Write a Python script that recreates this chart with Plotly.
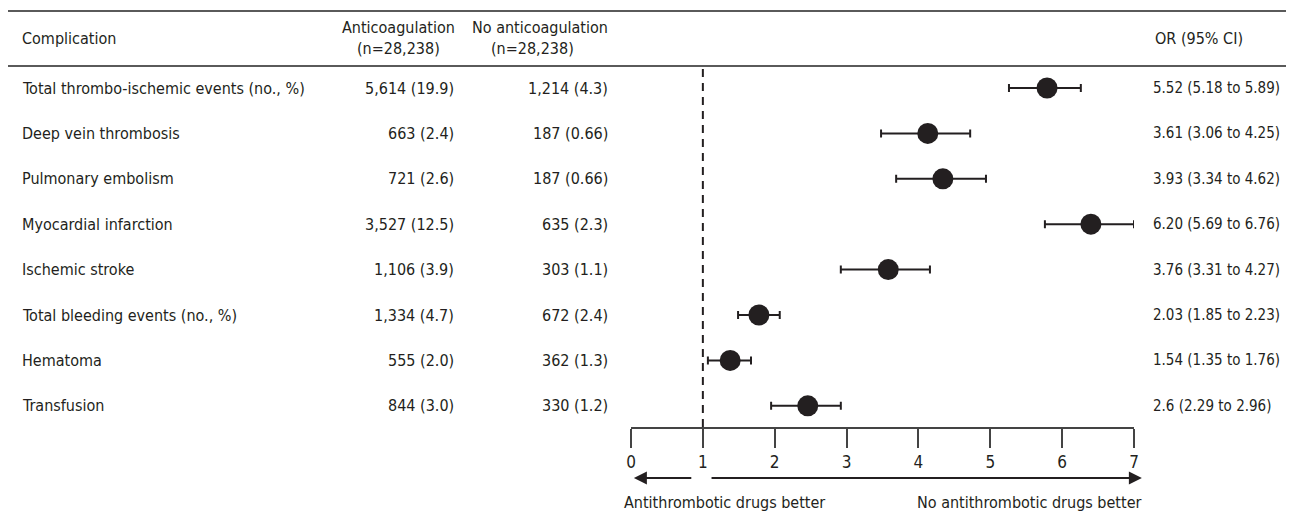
import plotly.graph_objects as go

# ---------------- data ----------------
complications = [
    "Total thrombo-ischemic events (no., %)",
    "Deep vein thrombosis",
    "Pulmonary embolism",
    "Myocardial infarction",
    "Ischemic stroke",
    "Total bleeding events (no., %)",
    "Hematoma",
    "Transfusion",
]
anticoag = ["5,614 (19.9)", "663 (2.4)", "721 (2.6)", "3,527 (12.5)",
            "1,106 (3.9)", "1,334 (4.7)", "555 (2.0)", "844 (3.0)"]
no_anticoag = ["1,214 (4.3)", "187 (0.66)", "187 (0.66)", "635 (2.3)",
               "303 (1.1)", "672 (2.4)", "362 (1.3)", "330 (1.2)"]
or_text = ["5.52 (5.18 to 5.89)", "3.61 (3.06 to 4.25)", "3.93 (3.34 to 4.62)",
           "6.20 (5.69 to 6.76)", "3.76 (3.31 to 4.27)", "2.03 (1.85 to 2.23)",
           "1.54 (1.35 to 1.76)", "2.6 (2.29 to 2.96)"]
# positions of the marks as drawn in the picture (read against the axis)
est_drawn = [5.79, 4.13, 4.34, 6.40, 3.58, 1.78, 1.38, 2.46]
lo_drawn = [5.26, 3.48, 3.69, 5.76, 2.92, 1.49, 1.07, 1.95]
hi_drawn = [6.26, 4.72, 4.94, 7.00, 4.16, 2.07, 1.67, 2.92]
tick_vals = [0, 1, 2, 3, 4, 5, 6, 7]
ref_line = 1

# ---------------- layout geometry (screen pixels) ----------------
O = 8                      # default page margin of the html body
W, H = 1294 - O, 518 - O
L, R, T, B = 631, 1134, 66, 427
PW, PH = R - L, B - T
def px(x):
    return (x - L) / PW
def py(y):
    return (B - y) / PH

FONT = "DejaVu Sans Condensed, Liberation Sans Narrow, Arial Narrow, sans-serif"
TXT = "#231f20"
FS = 16

rows = list(range(len(complications)))

fig = go.Figure()
fig.add_trace(go.Scatter(
    x=est_drawn, y=rows, mode="markers",
    marker=dict(size=21, color=TXT),
    error_x=dict(type="data", symmetric=False,
                 array=[h - e for h, e in zip(hi_drawn, est_drawn)],
                 arrayminus=[e - l for e, l in zip(est_drawn, lo_drawn)],
                 color=TXT, thickness=2, width=4),
    hoverinfo="skip", showlegend=False, cliponaxis=False,
))

ann = []
def txt(x, y, s, xa, yref="y", size=FS):
    ann.append(dict(x=x, y=y, xref="paper", yref=yref, text=s, showarrow=False,
                    xanchor=xa, yanchor="middle", font=dict(size=size, color=TXT, family=FONT)))

for i in rows:
    txt(px(20), i, complications[i], "left")
    txt(px(456), i, anticoag[i], "right")
    txt(px(610), i, no_anticoag[i], "right")
    txt(px(1151), i, or_text[i], "left", size=15)

# headers
txt(px(20), py(38), "Complication", "left", "paper")
txt(px(398), py(28), "Anticoagulation", "center", "paper")
txt(px(398), py(48), "(n=28,238)", "center", "paper")
txt(px(540), py(28), "No anticoagulation", "center", "paper")
txt(px(532), py(48), "(n=28,238)", "center", "paper")
txt(px(1153), py(38), "OR (95% CI)", "left", "paper")

# direction arrows
ann.append(dict(x=0.04, y=py(478), ax=0.86, ay=0, xref="x", yref="paper",
                axref="x", ayref="pixel", text="", showarrow=True,
                arrowhead=2, arrowsize=1.3, arrowwidth=2, arrowcolor=TXT))
ann.append(dict(x=7.11, y=py(478), ax=1.10, ay=0, xref="x", yref="paper",
                axref="x", ayref="pixel", text="", showarrow=True,
                arrowhead=2, arrowsize=1.3, arrowwidth=2, arrowcolor=TXT))
txt(px(622), py(502), "Antithrombotic drugs better", "left", "paper")
txt(px(1143), py(502), "No antithrombotic drugs better", "right", "paper")

shapes = [
    dict(type="line", xref="paper", yref="paper", x0=px(0), x1=px(1294), y0=py(11), y1=py(11),
         line=dict(color="#5a5a5a", width=2)),
    dict(type="line", xref="paper", yref="paper", x0=px(0), x1=px(1294), y0=py(66), y1=py(66),
         line=dict(color="#5a5a5a", width=2)),
    dict(type="line", xref="x", yref="paper", x0=ref_line, x1=ref_line, y0=0, y1=1,
         line=dict(color=TXT, width=2, dash="8px,6px")),
]

row_h = 45.4
top_off = (88 - T) / row_h
fig.update_layout(
    width=W, height=H,
    margin=dict(l=L - O, r=(W + O) - R, t=T - O, b=(H + O) - B, pad=0),
    paper_bgcolor="white", plot_bgcolor="white",
    font=dict(family=FONT, size=FS, color=TXT),
    xaxis=dict(range=[0, 7], tickvals=tick_vals, ticks="outside", ticklen=19,
               tickwidth=1.5, tickcolor="#444", showline=True, linecolor="#444",
               linewidth=1.5, showgrid=False, zeroline=False,
               tickfont=dict(size=17, family=FONT, color=TXT)),
    yaxis=dict(range=[PH / row_h - top_off, -top_off], visible=False,
               showgrid=False, zeroline=False),
    annotations=ann, shapes=shapes,
)

fig.write_html("out.html")
